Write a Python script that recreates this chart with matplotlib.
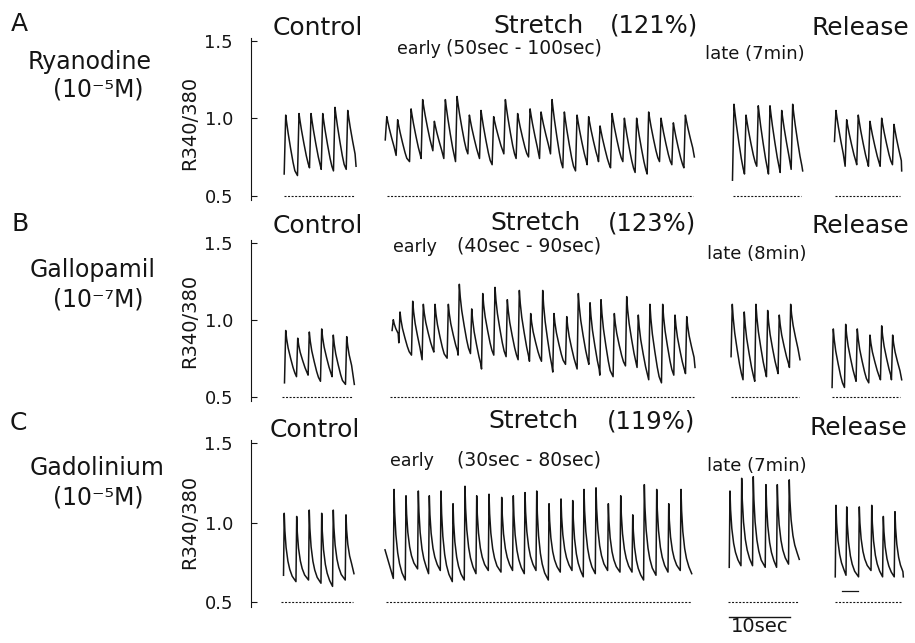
import matplotlib
matplotlib.use("Agg")
import matplotlib.pyplot as plt

W, H, DPI = 915, 643, 100

# ---------------- text / labels ----------------
panel_letters = ["A", "B", "C"]
drug_names = ["Ryanodine", "Gallopamil", "Gadolinium"]
drug_concs = ["(10⁻⁵M)", "(10⁻⁷M)", "(10⁻⁵M)"]
stretch_pcts = ["(121%)", "(123%)", "(119%)"]
early_windows = ["(50sec - 100sec)", "(40sec - 90sec)", "(30sec - 80sec)"]
late_labels = ["late (7min)", "late (8min)", "late (7min)"]
y_ticks = [0.5, 1.0, 1.5]
y_ticklabels = ["0.5", "1.0", "1.5"]
y_label = "R340/380"
scale_bar_sec = 10
baseline_level = 0.5

# ---------------- traces ----------------
# peak times (s from segment start), peak values, value just before each upstroke,
# and the final point of each segment
# Panel A - Ryanodine
A_ctrl_tp = [0.44, 2.62, 4.59, 6.51, 8.52, 10.61]
A_ctrl_pv = [1.02, 1.03, 1.03, 1.03, 1.07, 1.05]
A_ctrl_tv = [0.64, 0.63, 0.68, 0.67, 0.66, 0.67]
A_ctrl_end = [11.97, 0.69]
A_early_tp = [0.12, 1.90, 4.10, 6.00, 7.92, 9.72, 11.64, 13.66, 15.57, 17.64, 19.56, 21.57, 23.61,
              25.41, 27.21, 29.23, 31.31, 33.21, 35.08, 37.05, 39.07, 41.08, 43.05, 45.08, 47.10, 49.07]
A_early_pv = [1.01, 0.99, 1.06, 1.12, 0.98, 1.12, 1.14, 1.02, 1.05, 1.01, 1.12, 1.03, 1.06,
              1.04, 1.12, 1.04, 1.02, 1.01, 0.95, 1.03, 1.00, 1.00, 1.04, 1.00, 0.97, 1.02]
A_early_tv = [0.86, 0.76, 0.72, 0.74, 0.79, 0.74, 0.72, 0.77, 0.74, 0.70, 0.77, 0.74, 0.75,
              0.74, 0.77, 0.68, 0.66, 0.70, 0.72, 0.68, 0.72, 0.65, 0.64, 0.72, 0.70, 0.68]
A_early_end = [50.54, 0.75]
A_late_tp = [0.33, 2.30, 4.31, 6.23, 8.15, 9.95]
A_late_pv = [1.09, 1.02, 1.08, 1.08, 1.05, 1.09]
A_late_tv = [0.60, 0.64, 0.69, 0.64, 0.65, 0.67]
A_late_end = [11.59, 0.66]
A_rel_tp = [0.33, 2.08, 3.98, 5.90, 7.82, 9.84]
A_rel_pv = [1.05, 0.99, 1.02, 0.98, 1.00, 0.96]
A_rel_tv = [0.85, 0.69, 0.70, 0.69, 0.69, 0.70]
A_rel_end = [11.10, 0.66]

# Panel B - Gallopamil
B_ctrl_tp = [0.77, 2.74, 4.64, 6.67, 8.57, 10.77]
B_ctrl_pv = [0.93, 0.88, 0.92, 0.94, 0.90, 0.89]
B_ctrl_tv = [0.59, 0.63, 0.64, 0.60, 0.63, 0.58]
B_ctrl_end = [12.02, 0.58]
B_early_tp = [0.82, 1.92, 4.00, 5.74, 7.66, 9.84, 11.64, 13.67, 15.48, 17.49, 19.51, 21.48, 23.34,
              25.31, 27.16, 29.25, 31.15, 33.07, 34.87, 37.05, 39.08, 40.98, 42.89, 44.98, 47.00, 48.92]
B_early_pv = [1.00, 1.05, 1.12, 1.10, 1.10, 1.10, 1.23, 1.07, 1.17, 1.21, 1.13, 1.19, 1.04,
              1.19, 1.04, 1.02, 1.17, 1.11, 1.13, 1.04, 1.15, 1.03, 1.10, 1.10, 1.03, 1.02]
B_early_tv = [0.93, 0.85, 0.77, 0.74, 0.79, 0.75, 0.77, 0.78, 0.68, 0.77, 0.76, 0.74, 0.73,
              0.73, 0.66, 0.71, 0.68, 0.71, 0.64, 0.63, 0.70, 0.69, 0.61, 0.59, 0.64, 0.65]
B_early_end = [50.28, 0.69]
B_late_tp = [0.38, 2.34, 4.26, 6.18, 8.08, 9.95]
B_late_pv = [1.10, 1.05, 1.10, 1.06, 1.03, 1.10]
B_late_tv = [0.76, 0.61, 0.60, 0.63, 0.65, 0.69]
B_late_end = [11.48, 0.74]
B_rel_tp = [0.43, 2.46, 4.36, 6.44, 8.36, 10.16]
B_rel_pv = [0.94, 0.97, 0.94, 0.90, 0.96, 0.90]
B_rel_tv = [0.56, 0.56, 0.60, 0.59, 0.61, 0.61]
B_rel_end = [11.64, 0.61]

# Panel C - Gadolinium
C_ctrl_tp = [0.70, 2.74, 4.80, 6.84, 8.74, 10.82]
C_ctrl_pv = [1.06, 1.04, 1.08, 1.06, 1.08, 1.05]
C_ctrl_tv = [0.67, 0.63, 0.64, 0.62, 0.60, 0.64]
C_ctrl_end = [12.13, 0.68]
C_early_start = [0.0, 0.83]
C_early_tp = [1.48, 3.44, 5.46, 7.26, 9.18, 11.15, 13.11, 15.03, 17.05, 19.13, 21.03, 22.95, 24.87,
              26.89, 28.85, 30.77, 32.62, 34.59, 36.61, 38.64, 40.61, 42.51, 44.54, 46.51, 48.52]
C_early_pv = [1.21, 1.17, 1.20, 1.17, 1.20, 1.12, 1.23, 1.17, 1.18, 1.16, 1.17, 1.19, 1.20,
              1.12, 1.15, 1.14, 1.21, 1.22, 1.12, 1.17, 1.05, 1.24, 1.21, 1.12, 1.21]
C_early_tv = [0.65, 0.64, 0.71, 0.68, 0.70, 0.63, 0.64, 0.68, 0.70, 0.69, 0.70, 0.68, 0.70,
              0.64, 0.69, 0.70, 0.66, 0.68, 0.70, 0.69, 0.69, 0.64, 0.67, 0.69, 0.70]
C_early_end = [50.28, 0.68]
C_late_tp = [0.54, 2.46, 4.36, 6.44, 8.30, 10.26]
C_late_pv = [1.20, 1.28, 1.29, 1.24, 1.24, 1.27]
C_late_tv = [0.72, 0.73, 0.73, 0.72, 0.72, 0.74]
C_late_end = [11.90, 0.77]
C_rel_tp = [0.44, 2.20, 4.26, 6.30, 8.20, 10.11]
C_rel_pv = [1.11, 1.10, 1.10, 1.11, 1.04, 1.07]
C_rel_tv = [0.66, 0.67, 0.66, 0.70, 0.66, 0.66]
C_rel_end = [11.48, 0.66]
C_rel_mark_t = [1.43, 4.05]
C_rel_mark_v = [0.57, 0.57]

# shape of a typical beat per panel:
# upstroke duration (s), decay times after the peak (s) and fraction of amplitude left
A_rise = 0.25
A_decay_t = [0.15, 0.40, 0.80, 1.20, 1.50]
A_decay_f = [0.88, 0.70, 0.45, 0.22, 0.08]
B_rise = 0.20
B_decay_t = [0.15, 0.40, 0.80, 1.20, 1.50]
B_decay_f = [0.82, 0.62, 0.40, 0.20, 0.08]
C_rise = 0.12
C_decay_t = [0.10, 0.30, 0.60, 0.90, 1.30]
C_decay_f = [0.75, 0.50, 0.30, 0.18, 0.08]

# ---------------- layout (pixels of the reference) ----------------
PX_PER_SEC = 6.1
AX_LEFT_PX, AX_RIGHT_PX = 251, 912
# segment start positions (s from the axis line)
seg_offsets = {"A": [5.25, 22.14, 78.85, 95.57],
               "B": [4.92, 22.51, 78.52, 95.03],
               "C": [4.75, 21.97, 77.98, 95.46]}
# pixel y of value 0.5 and pixels per unit, per panel
y_cal = {"A": (195.7, 155.0), "B": (396.7, 154.0), "C": (602.3, 159.0)}
YLIM = (0.3, 1.6)

INK = "#151515"
plt.rcParams["font.family"] = ["DejaVu Sans"]


def fx(px):
    return px / W


def fy(py):
    return 1 - py / H


def build_trace(tp, pv, tv, end, rise, dt, df, start=None):
    xs, ys = [], []
    if start is not None:
        xs.append(start[0]); ys.append(start[1])
    n = len(tp)
    for i in range(n):
        xs += [tp[i] - rise, tp[i]]
        ys += [tv[i], pv[i]]
        nxt = tp[i + 1] - rise if i < n - 1 else end[0]
        base = tv[i + 1] if i < n - 1 else end[1]
        for d, f in zip(dt, df):
            if tp[i] + d < nxt - 0.05:
                xs.append(tp[i] + d)
                ys.append(base + f * (pv[i] - base))
    xs.append(end[0]); ys.append(end[1])
    return xs, ys


fig = plt.figure(figsize=(W / DPI, H / DPI), dpi=DPI)

panels = {
    "A": [(A_ctrl_tp, A_ctrl_pv, A_ctrl_tv, A_ctrl_end, None),
          (A_early_tp, A_early_pv, A_early_tv, A_early_end, None),
          (A_late_tp, A_late_pv, A_late_tv, A_late_end, None),
          (A_rel_tp, A_rel_pv, A_rel_tv, A_rel_end, None)],
    "B": [(B_ctrl_tp, B_ctrl_pv, B_ctrl_tv, B_ctrl_end, None),
          (B_early_tp, B_early_pv, B_early_tv, B_early_end, None),
          (B_late_tp, B_late_pv, B_late_tv, B_late_end, None),
          (B_rel_tp, B_rel_pv, B_rel_tv, B_rel_end, None)],
    "C": [(C_ctrl_tp, C_ctrl_pv, C_ctrl_tv, C_ctrl_end, None),
          (C_early_tp, C_early_pv, C_early_tv, C_early_end, C_early_start),
          (C_late_tp, C_late_pv, C_late_tv, C_late_end, None),
          (C_rel_tp, C_rel_pv, C_rel_tv, C_rel_end, None)],
}
shapes = {"A": (A_rise, A_decay_t, A_decay_f),
          "B": (B_rise, B_decay_t, B_decay_f),
          "C": (C_rise, C_decay_t, C_decay_f)}

# text positions (pixels)
txt_pos = {
    "A": dict(letter=(11, 31), drug=(28, 69), conc=(53, 97), ctrl=(273, 35), stretch=(493, 33),
              pct=(610, 33), rel=(812, 35), early=(397, 54), win=(446, 54), late=(705, 59), ylab=(190, 123)),
    "B": dict(letter=(11, 231), drug=(30, 277), conc=(53, 307), ctrl=(273, 233), stretch=(490, 230),
              pct=(608, 230), rel=(812, 233), early=(393, 252), win=(457, 252), late=(707, 259), ylab=(190, 321)),
    "C": dict(letter=(10, 430), drug=(30, 475), conc=(53, 505), ctrl=(270, 437), stretch=(488, 428),
              pct=(607, 428), rel=(810, 435), early=(390, 466), win=(457, 466), late=(707, 471), ylab=(190, 522)),
}

xmax = (AX_RIGHT_PX - AX_LEFT_PX) / PX_PER_SEC
for k, key in enumerate(["A", "B", "C"]):
    y05, ppu = y_cal[key]
    py_bot = y05 - (YLIM[0] - 0.5) * ppu
    py_top = y05 - (YLIM[1] - 0.5) * ppu
    ax = fig.add_axes([fx(AX_LEFT_PX), fy(py_bot), fx(AX_RIGHT_PX - AX_LEFT_PX), (py_bot - py_top) / H])
    ax.set_facecolor("none")
    ax.set_xlim(0, xmax)
    ax.set_ylim(*YLIM)
    for s in ["top", "right", "bottom"]:
        ax.spines[s].set_visible(False)
    ax.spines["left"].set_bounds(0.47, 1.52)
    ax.spines["left"].set_linewidth(0.8)
    ax.spines["left"].set_color(INK)
    ax.set_xticks([])
    ax.set_yticks(y_ticks)
    ax.set_yticklabels(y_ticklabels)
    ax.tick_params(axis="y", direction="in", length=4.5, width=0.8, pad=13,
                   labelsize=13, colors=INK)

    rise, dt, df = shapes[key]
    for off, (tp, pv, tv, end, start) in zip(seg_offsets[key], panels[key]):
        xs, ys = build_trace(tp, pv, tv, end, rise, dt, df, start)
        ax.plot([off + x for x in xs], ys, color=INK, lw=1.1)
        ax.plot([off + 0.2, off + end[0] - 0.2], [baseline_level, baseline_level],
                color=INK, lw=0.8, linestyle=(0, (1.8, 1.4)))

    if key == "C":
        off = seg_offsets["C"][3]
        ax.plot([off + t for t in C_rel_mark_t], C_rel_mark_v, color=INK, lw=0.9)
        sb0 = seg_offsets["C"][2] + 0.4
        ax.plot([sb0, sb0 + scale_bar_sec], [0.405, 0.405], color=INK, lw=1.0, clip_on=False)

    p = txt_pos[key]
    fig.text(fx(p["letter"][0]), fy(p["letter"][1]), panel_letters[k], fontsize=18, color=INK, va="baseline")
    fig.text(fx(p["drug"][0]), fy(p["drug"][1]), drug_names[k], fontsize=17, color=INK, va="baseline")
    fig.text(fx(p["conc"][0]), fy(p["conc"][1]), drug_concs[k], fontsize=17, color=INK, va="baseline")
    fig.text(fx(p["ctrl"][0]), fy(p["ctrl"][1]), "Control", fontsize=18, color=INK, va="baseline")
    fig.text(fx(p["stretch"][0]), fy(p["stretch"][1]), "Stretch", fontsize=18, color=INK, va="baseline")
    fig.text(fx(p["pct"][0]), fy(p["pct"][1]), stretch_pcts[k], fontsize=17.5, color=INK, va="baseline")
    fig.text(fx(p["rel"][0]), fy(p["rel"][1]), "Release", fontsize=18, color=INK, va="baseline")
    fig.text(fx(p["early"][0]), fy(p["early"][1]), "early", fontsize=12.5, color=INK, va="baseline")
    fig.text(fx(p["win"][0]), fy(p["win"][1]), early_windows[k], fontsize=13.5, color=INK, va="baseline")
    fig.text(fx(p["late"][0]), fy(p["late"][1]), late_labels[k], fontsize=13, color=INK, va="baseline")
    fig.text(fx(p["ylab"][0]), fy(p["ylab"][1]), y_label, fontsize=14, color=INK, rotation=90,
             ha="center", va="center")

fig.text(fx(760), fy(626), f"{scale_bar_sec}sec", fontsize=14, color=INK, ha="center", va="center")

fig.savefig("out.png", dpi=DPI)
